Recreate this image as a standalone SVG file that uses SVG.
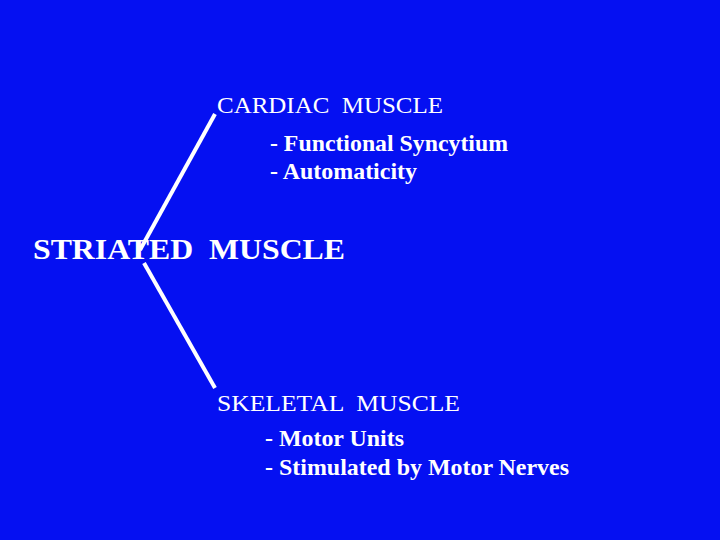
<svg xmlns="http://www.w3.org/2000/svg" width="720" height="540" viewBox="0 0 720 540">
<style>
.t{font-family:"Liberation Serif","Times New Roman",serif;fill:#ffffff;white-space:pre}
.h{font-size:23px;font-weight:normal}
.b{font-size:23px;font-weight:bold}
.big{font-size:30px;font-weight:bold}
.c{stroke:#ffffff;stroke-width:4;fill:none;stroke-linecap:butt}
</style>
<rect x="0" y="0" width="720" height="540" fill="#0510f2"/>
<g id="connectors">
<line class="c" x1="215" y1="114" x2="140" y2="250"/>
<line class="c" x1="144" y1="263" x2="215" y2="388"/>
</g>
<g id="striated">
<text class="t big" x="33" y="259" xml:space="preserve" textLength="312" lengthAdjust="spacingAndGlyphs">STRIATED  MUSCLE</text>
</g>
<g id="cardiac">
<text class="t h" x="217" y="113" xml:space="preserve" textLength="226" lengthAdjust="spacingAndGlyphs">CARDIAC  MUSCLE</text>
<text class="t b" x="270" y="151" textLength="238" lengthAdjust="spacingAndGlyphs">- Functional Syncytium</text>
<text class="t b" x="270" y="179" textLength="147" lengthAdjust="spacingAndGlyphs">- Automaticity</text>
</g>
<g id="skeletal">
<text class="t h" x="217" y="411" xml:space="preserve" textLength="243" lengthAdjust="spacingAndGlyphs">SKELETAL  MUSCLE</text>
<text class="t b" x="265" y="446" textLength="139" lengthAdjust="spacingAndGlyphs">- Motor Units</text>
<text class="t b" x="265" y="475" textLength="304" lengthAdjust="spacingAndGlyphs">- Stimulated by Motor Nerves</text>
</g>
</svg>
